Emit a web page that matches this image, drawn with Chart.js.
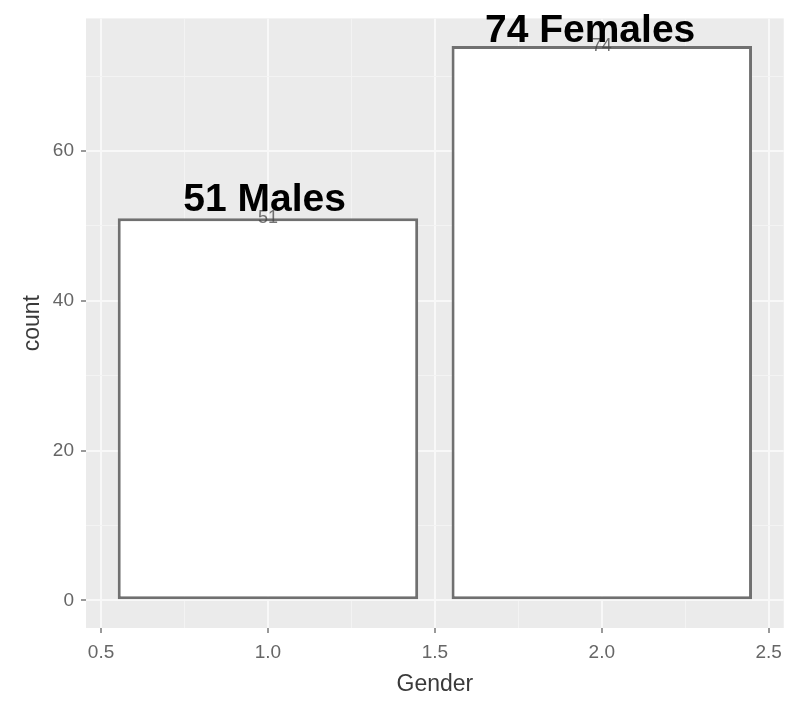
<!DOCTYPE html>
<html>
<head>
<meta charset="utf-8">
<script src="https://cdn.jsdelivr.net/npm/chart.js@4.4.1/dist/chart.umd.min.js"></script>
<style>
  html, body { margin: 0; padding: 0; background: #fff; }
  #wrap { width: 788px; height: 702px; }
</style>
</head>
<body>
<div id="wrap"><canvas id="gender-chart" width="788" height="702"></canvas></div>
<script>
// bar data (ggplot geom_bar of Gender coded 1 / 2)
const genderPos = [1, 2];
const genderCounts = [51, 74];
const genderLabels = ['51 Males', '74 Females'];
// where the big annotate() labels sit, in data units
const labelX = [0.99, 1.965];
const labelY = [52, 74.5];

// axes
const xRange = [0.455, 2.545];
const yRange = [-3.7, 77.7];
const xTicks = [0.5, 0.75, 1, 1.25, 1.5, 1.75, 2, 2.25, 2.5];
const xMajor = [0.5, 1, 1.5, 2, 2.5];
const yTicks = [0, 10, 20, 30, 40, 50, 60, 70];
const yMajor = [0, 20, 40, 60];

const BAR_WIDTH = 0.9;
const TICK_STEP = 0.25; // bar controller sizes bars from the smallest tick gap
const FAMILY = '"Liberation Sans", Arial, sans-serif';
const TITLE_FONT = { family: FAMILY, size: 23 };

function isMajor(list, v) {
    return list.some(m => Math.abs(m - v) < 1e-9);
}
// scriptable grid options also get called without a tick
function tickIsMajor(list, c) {
    return !c.tick || isMajor(list, c.tick.value);
}

// grey ggplot panel behind the grid
const panelBg = {
    id: 'panelBg',
    beforeDraw(chart) {
        const { ctx, chartArea: a } = chart;
        ctx.save();
        ctx.fillStyle = '#ebebeb';
        ctx.fillRect(a.left, a.top, a.right - a.left, a.bottom - a.top);
        ctx.restore();
    }
};

// count labels + the big text labels
const barText = {
    id: 'barText',
    afterDatasetsDraw(chart) {
        const { ctx, scales: { x, y } } = chart;
        ctx.save();
        ctx.textAlign = 'center';

        ctx.font = '18px ' + FAMILY;
        ctx.fillStyle = 'rgba(70,70,70,0.75)';
        ctx.textBaseline = 'middle';
        genderPos.forEach((p, i) => {
            ctx.fillText(String(genderCounts[i]), x.getPixelForValue(p), y.getPixelForValue(genderCounts[i]));
        });

        ctx.font = 'bold 39px ' + FAMILY;
        ctx.fillStyle = '#000';
        ctx.textBaseline = 'alphabetic';
        genderLabels.forEach((t, i) => {
            ctx.fillText(t, x.getPixelForValue(labelX[i]), y.getPixelForValue(labelY[i]));
        });
        ctx.restore();
    }
};

window.onload = function() {
    const ctx = document.getElementById('gender-chart').getContext('2d');

    new Chart(ctx, {
        type: 'bar',
        data: {
            datasets: [{
                label: 'count',
                data: genderPos.map((p, i) => ({ x: p, y: genderCounts[i] })),
                backgroundColor: '#ffffff',
                borderColor: '#707070',
                borderWidth: 3,
                borderSkipped: false,
                barPercentage: 1,
                categoryPercentage: BAR_WIDTH / TICK_STEP
            }]
        },
        options: {
            responsive: false,
            animation: false,
            layout: { padding: { top: 17, right: 3, left: 0, bottom: 0 } },
            plugins: {
                legend: { display: false },
                tooltip: { enabled: false }
            },
            scales: {
                x: {
                    type: 'linear',
                    min: xRange[0],
                    max: xRange[1],
                    offset: false,
                    afterBuildTicks: s => { s.ticks = xTicks.map(v => ({ value: v })); },
                    afterFit: s => { s.height = 74; },
                    border: { display: false },
                    grid: {
                        offset: false,
                        color: c => tickIsMajor(xMajor, c) ? '#f8f8f8' : '#f3f3f3',
                        lineWidth: c => tickIsMajor(xMajor, c) ? 2 : 1,
                        tickLength: 5,
                        tickWidth: 1.5,
                        tickColor: c => tickIsMajor(xMajor, c) ? '#777777' : 'rgba(0,0,0,0)'
                    },
                    ticks: {
                        autoSkip: false,
                        maxRotation: 0,
                        padding: 6,
                        color: '#666666',
                        font: { family: FAMILY, size: 19, lineHeight: 1.45 },
                        callback: v => isMajor(xMajor, v) ? v.toFixed(1) : ''
                    },
                    title: {
                        display: true,
                        text: 'Gender',
                        color: '#3a3a3a',
                        font: TITLE_FONT,
                        padding: { top: 0, bottom: 4 }
                    }
                },
                y: {
                    min: yRange[0],
                    max: yRange[1],
                    afterBuildTicks: s => { s.ticks = yTicks.map(v => ({ value: v })); },
                    afterFit: s => { s.width = 86; },
                    border: { display: false },
                    grid: {
                        color: c => tickIsMajor(yMajor, c) ? '#f8f8f8' : '#f3f3f3',
                        lineWidth: c => tickIsMajor(yMajor, c) ? 2 : 1,
                        tickLength: 5,
                        tickWidth: 1.5,
                        tickColor: c => tickIsMajor(yMajor, c) ? '#777777' : 'rgba(0,0,0,0)'
                    },
                    ticks: {
                        autoSkip: false,
                        padding: 7,
                        color: '#666666',
                        font: { family: FAMILY, size: 19 },
                        callback: v => isMajor(yMajor, v) ? String(v) : ''
                    },
                    title: {
                        display: true,
                        text: 'count',
                        color: '#3a3a3a',
                        font: TITLE_FONT,
                        padding: { top: 19, bottom: 0 }
                    }
                }
            }
        },
        plugins: [panelBg, barText]
    });
};
</script>
</body>
</html>
